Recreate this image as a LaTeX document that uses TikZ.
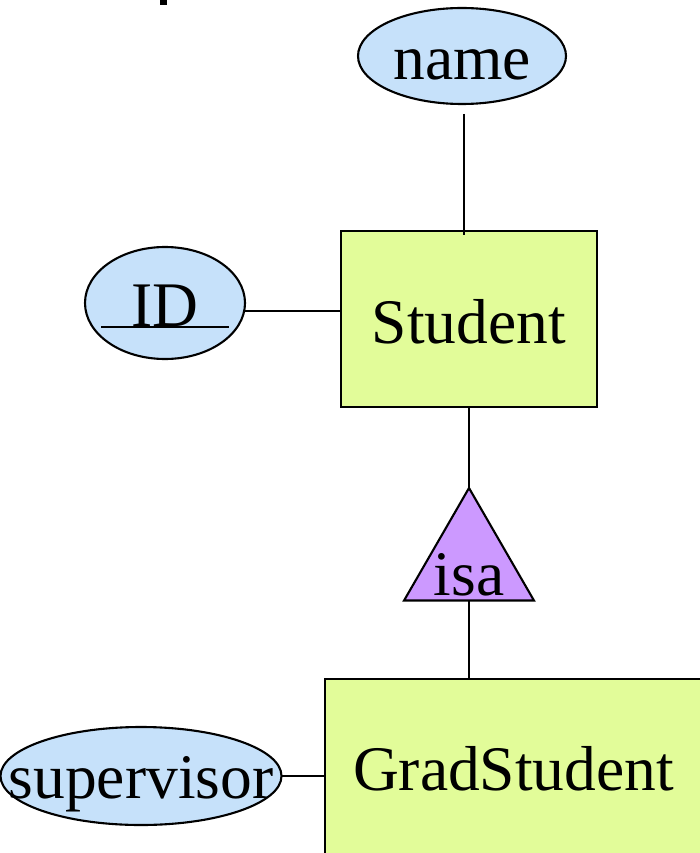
\documentclass[tikz,border=0pt]{standalone}
\usepackage{fontspec}
\setmainfont{Liberation Serif}
\usetikzlibrary{shapes.geometric}
\definecolor{attrfill}{RGB}{198,225,250}
\definecolor{entfill}{RGB}{226,252,153}
\definecolor{isafill}{RGB}{204,153,255}
\tikzset{
  base/.style={draw=black, line width=2.1pt, inner sep=0pt, outer sep=0pt,
    font=\rmfamily\fontsize{63.5}{70}\selectfont, text depth=0pt},
  attr/.style={base, ellipse, fill=attrfill},
  entity/.style={base, rectangle, fill=entfill},
  isabox/.style={base, regular polygon, regular polygon sides=3, fill=isafill, minimum size=150pt},
  conn/.style={line width=2.1pt},
}
\begin{document}
\begin{tikzpicture}[x=1pt,y=-1pt]
\useasboundingbox (0,0) rectangle (699,853);
\fill[black] (160,0) rectangle (167,5);
\node[attr, minimum width=208pt, minimum height=96pt, text height=48pt] (name) at (462,56) {\makebox[0pt]{name}};
\node[attr, minimum width=160pt, minimum height=112pt, text height=46pt] (ID) at (165,303)
  {\makebox[0pt]{\makebox[128pt]{ID}\llap{\rule[-1.5pt]{128pt}{1.8pt}}}};
\node[entity, minimum width=256pt, minimum height=176pt, text height=48pt] (Student) at (469,319) {Student};
\node[isabox] (isa) at (469,563) {};
\node[font=\rmfamily\fontsize{63.5}{70}\selectfont, inner sep=0pt, anchor=base] (isalabel) at (469,595) {isa};
\node[entity, minimum width=377pt, minimum height=201pt, text height=21pt] (GradStudent) at (513.5,779.5) {GradStudent};
\node[attr, minimum width=281pt, minimum height=98pt, text height=44pt] (supervisor) at (141,776) {\makebox[0pt]{supervisor}};
\draw[conn] ([xshift=2pt,yshift=-10pt]name.south) -- ([xshift=2pt,yshift=-4pt]Student.north -| name.south);
\draw[conn] (ID.-6) -- (ID.-6 -| Student.west);
\draw[conn] (Student.south) -- (isa.north);
\draw[conn] (isa.south) -- (isa.south |- GradStudent.north);
\draw[conn] (supervisor.east) -- (supervisor.east -| GradStudent.west);
\end{tikzpicture}
\end{document}
